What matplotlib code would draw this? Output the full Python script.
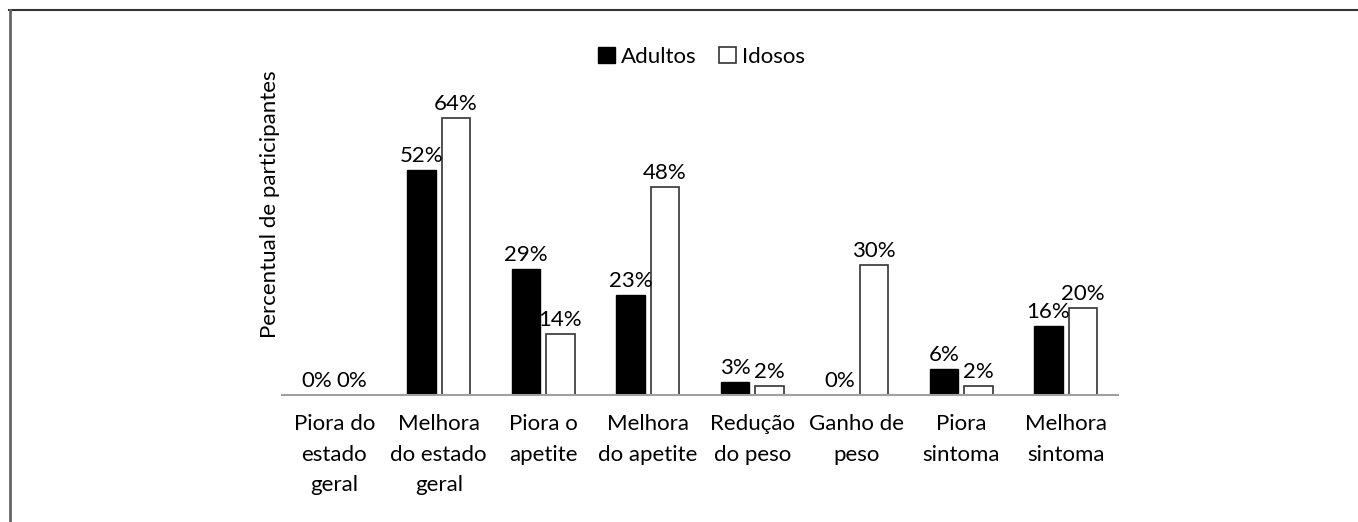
import matplotlib.pyplot as plt
import numpy as np
from matplotlib.patches import Patch

categorias = ["Piora do\nestado\ngeral", "Melhora\ndo estado\ngeral", "Piora o\napetite",
              "Melhora\ndo apetite", "Redução\ndo peso", "Ganho de\npeso", "Piora\nsintoma",
              "Melhora\nsintoma"]
adultos = [0, 52, 29, 23, 3, 0, 6, 16]
idosos = [0, 64, 14, 48, 2, 30, 2, 20]

plt.rcParams["font.family"] = ["Lato", "DejaVu Sans"]
plt.rcParams["font.size"] = 16

fig = plt.figure(figsize=(13.58, 5.22), dpi=100)
ax = fig.add_axes([282 / 1358, 127 / 522, 836 / 1358, 355 / 522])

x = np.arange(len(categorias))
w = 0.27
off = 0.165

lw_a = [0 if v == 0 else 1 for v in adultos]
lw_i = [0 if v == 0 else 1.2 for v in idosos]
ax.bar(x - off, adultos, w, color="black", edgecolor="black", linewidth=lw_a)
ax.bar(x + off, idosos, w, color="white", edgecolor="#333333", linewidth=lw_i)

for xs, vals in ((x - off, adultos), (x + off, idosos)):
    for xi, v in zip(xs, vals):
        ax.annotate(f"{v}%", (xi, v), xytext=(0, 3), textcoords="offset points",
                    ha="center", va="bottom")

ax.set_xlim(-0.5, len(categorias) - 0.5)
ax.set_ylim(0, 82)
ax.set_xticks(x)
ax.set_xticklabels(categorias, linespacing=1.65, va="top")
ax.tick_params(axis="x", length=0, pad=14)
ax.set_yticks([])
for s in ("top", "right", "left"):
    ax.spines[s].set_visible(False)
ax.spines["bottom"].set_color("#a0a0a0")
ax.spines["bottom"].set_linewidth(1.5)

handles = [Patch(facecolor="black", edgecolor="black", label="Adultos"),
           Patch(facecolor="white", edgecolor="#333333", linewidth=1.2, label="Idosos")]
ax.legend(handles=handles, loc="center", bbox_to_anchor=(0.502, 0.952), ncol=2,
          frameon=False, handlelength=0.75, handleheight=0.75, handletextpad=0.3,
          columnspacing=1.0)

fig.text(270 / 1358, (522 - 204) / 522, "Percentual de participantes", rotation=90,
         ha="center", va="center")

# moldura: só topo e esquerda
fig.add_artist(plt.Line2D([9 / 1358, 1], [1 - 10 / 522, 1 - 10 / 522], color="#333333", lw=1.5))
fig.add_artist(plt.Line2D([9.5 / 1358, 9.5 / 1358], [0, 1 - 10 / 522], color="#666666", lw=2))

fig.savefig("out.png", dpi=100)
